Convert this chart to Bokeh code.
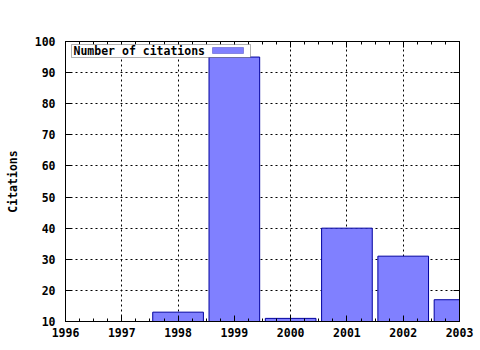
from bokeh.plotting import figure
from bokeh.models import (LinearAxis, SingleIntervalTicker, Range1d, Label,
                          BoxAnnotation)
from bokeh.embed import file_html
from bokeh.resources import INLINE

years = [1996, 1997, 1998, 1999, 2000, 2001, 2002, 2003]
citations = [0, 0, 13, 95, 11, 40, 31, 17]
y_ticks = [10, 20, 30, 40, 50, 60, 70, 80, 90, 100]
legend_label = "Number of citations"

FONT = "DejaVu Sans Mono"
FS = "11.5px"
FILL = "#8080ff"
EDGE = "#0000a0"

p = figure(width=480, height=350, output_backend="svg", toolbar_location=None,
           x_range=Range1d(1996, 2003), y_range=Range1d(10, 100),
           min_border_left=65, min_border_right=21, min_border_top=41,
           min_border_bottom=29, x_axis_location=None, y_axis_location=None)
p.background_fill_color = "white"
p.border_fill_color = "white"
p.outline_line_color = "black"
p.outline_line_width = 1

p.vbar(x=years, top=citations, bottom=0, width=0.9, fill_color=FILL,
       line_color=EDGE, line_width=1)

def style_axis(ax, labels=True):
    ax.axis_line_color = "black"
    ax.major_tick_in = 6
    ax.major_tick_out = 0
    ax.minor_tick_in = 3
    ax.minor_tick_out = 0
    ax.major_tick_line_color = "black"
    ax.minor_tick_line_color = "black"
    ax.major_label_text_font = FONT
    ax.major_label_text_font_style = "bold"
    ax.major_label_text_font_size = FS
    ax.major_label_text_color = "black" if labels else None

xt = SingleIntervalTicker(interval=1, num_minor_ticks=4)
yt = SingleIntervalTicker(interval=10, num_minor_ticks=0)

xb = LinearAxis(ticker=xt)
style_axis(xb)
xb.major_label_standoff = 6
p.add_layout(xb, "below")

xa = LinearAxis(ticker=xt)
style_axis(xa, labels=False)
p.add_layout(xa, "above")

yl = LinearAxis(ticker=yt, axis_label="Citations")
style_axis(yl)
yl.major_label_standoff = 10
yl.axis_label_text_font = FONT
yl.axis_label_text_font_style = "bold"
yl.axis_label_text_font_size = FS
yl.axis_label_text_color = "black"
yl.axis_label_standoff = 12
p.add_layout(yl, "left")

yr = LinearAxis(ticker=yt)
style_axis(yr, labels=False)
p.add_layout(yr, "right")

p.xgrid.ticker = xt
p.ygrid.ticker = yt
for g in (p.xgrid, p.ygrid):
    g.grid_line_color = "black"
    g.grid_line_dash = "2 3"
    g.grid_line_width = 1

# legend (gnuplot style: text then sample); screen units relative to frame
p.add_layout(BoxAnnotation(left=6, right=185, top=277, bottom=264,
                           left_units="screen", right_units="screen",
                           top_units="screen", bottom_units="screen",
                           fill_color="white", fill_alpha=1,
                           line_color="black", line_width=1))
p.add_layout(BoxAnnotation(left=147, right=178, top=274, bottom=268,
                           left_units="screen", right_units="screen",
                           top_units="screen", bottom_units="screen",
                           fill_color=FILL, fill_alpha=1,
                           line_color=EDGE, line_width=1))
p.add_layout(Label(x=8, y=270.5, x_units="screen", y_units="screen",
                   text=legend_label, text_font=FONT, text_font_style="bold",
                   text_font_size=FS, text_baseline="middle",
                   text_color="black"))

open("out.html", "w").write(file_html(p, INLINE))
